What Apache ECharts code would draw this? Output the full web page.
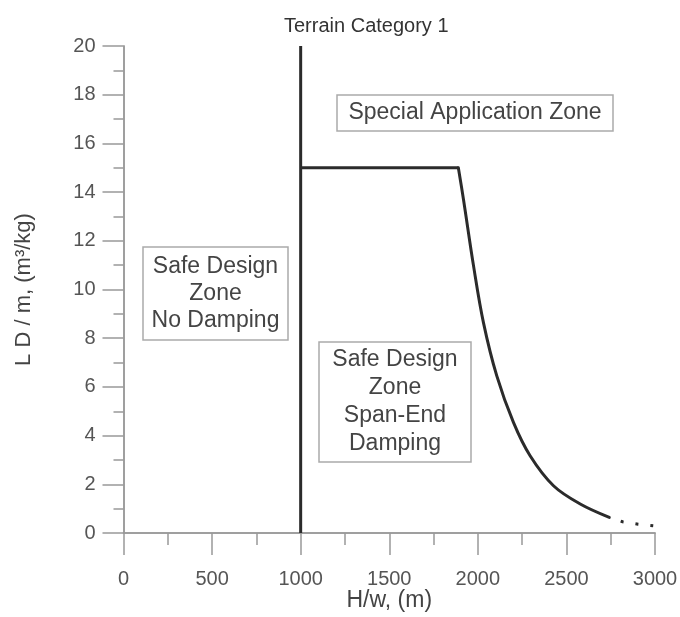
<!DOCTYPE html>
<html>
<head>
<meta charset="utf-8">
<script src="https://cdn.jsdelivr.net/npm/echarts@6/dist/echarts.min.js"></script>
<style>
  html, body { margin: 0; padding: 0; background: #fff; }
  #chart { width: 680px; height: 617px; }
</style>
</head>
<body>
<div id="chart"></div>
<script>
// boundary between the two safe zones, H/w = 1000 m
const dividerX = [1000, 1000];
const dividerY = [0, 20];

// upper limit: flat plateau at 15 ...
const plateauX = [1000, 1890];
const plateauY = [15, 15];

// ... then the falling curve
const limitX = [1890, 1919, 1976, 2032, 2107, 2201, 2295, 2427, 2578, 2742];
const limitY = [15, 13.7, 10.96, 8.63, 6.45, 4.54, 3.17, 1.94, 1.19, 0.64];

// extrapolated (dotted) tail
const tailX = [2742, 2817, 2905, 2990];
const tailY = [0.64, 0.46, 0.36, 0.3];

const xTicks = [0, 500, 1000, 1500, 2000, 2500, 3000];
const yTicks = [0, 2, 4, 6, 8, 10, 12, 14, 16, 18, 20];

const zip = (xs, ys) => xs.map((x, i) => [x, ys[i]]);

const FONT = "'Liberation Sans', Arial, sans-serif";
const axisGray = '#999';
const textGray = '#444';
const lineDark = '#2b2b2b';

const chart = echarts.init(document.getElementById('chart'));

const boxes = [
  { x: 143, y: 247, w: 145, h: 93, lines: ['Safe Design', 'Zone', 'No Damping'], lh: 27 },
  { x: 319, y: 342, w: 152, h: 120, lines: ['Safe Design', 'Zone', 'Span-End', 'Damping'], lh: 28 },
  { x: 337, y: 95, w: 276, h: 36, lines: ['Special Application Zone'], lh: 27 }
];

const graphic = [
  {
    type: 'text',
    left: 371 - 87,
    top: 16,
    style: { text: 'Terrain Category 1', font: '20px ' + FONT, fill: '#333' }
  }
];
boxes.forEach(b => {
  graphic.push({
    type: 'rect',
    shape: { x: b.x, y: b.y, width: b.w, height: b.h },
    style: { fill: '#fff', stroke: '#aaa', lineWidth: 1.5 },
    z: 10
  });
  graphic.push({
    type: 'text',
    x: b.x + b.w / 2,
    y: b.y + b.h / 2,
    style: {
      text: b.lines.join('\n'),
      font: '23px ' + FONT,
      fill: textGray,
      align: 'center',
      verticalAlign: 'middle',
      lineHeight: b.lh
    },
    z: 11
  });
});

const hiddenAxis = {
  type: 'value',
  axisLine: { show: true, lineStyle: { color: axisGray, width: 1.5 } },
  axisTick: { show: false },
  axisLabel: { show: false },
  splitLine: { show: false }
};

chart.setOption({
  animation: false,
  backgroundColor: '#fff',
  grid: { left: 123.5, right: 25, top: 46, bottom: 84, containLabel: false, outerBoundsMode: 'none' },
  graphic,
  xAxis: [
    {
      type: 'value',
      min: xTicks[0],
      max: xTicks[xTicks.length - 1],
      interval: 500,
      axisLine: { show: true, onZero: false, lineStyle: { color: axisGray, width: 1.5 } },
      axisTick: { show: true, length: 22, lineStyle: { color: axisGray, width: 1.5 } },
      minorTick: { show: true, splitNumber: 2, length: 12, lineStyle: { color: axisGray, width: 1.5 } },
      splitLine: { show: false },
      axisLabel: { margin: 36, fontSize: 20, color: '#555', fontFamily: FONT, formatter: v => String(v) },
      name: 'H/w, (m)',
      nameLocation: 'middle',
      nameGap: 56,
      nameMoveOverlap: false,
      nameTextStyle: { fontSize: 23, color: textGray, fontFamily: FONT }
    },
    Object.assign({ position: 'top', min: 0, max: 3000 }, hiddenAxis)
  ],
  yAxis: [
    {
      type: 'value',
      min: yTicks[0],
      max: yTicks[yTicks.length - 1],
      interval: 2,
      axisLine: { show: true, onZero: false, lineStyle: { color: axisGray, width: 1.5 } },
      axisTick: { show: true, length: 21, lineStyle: { color: axisGray, width: 1.5 } },
      minorTick: { show: true, splitNumber: 2, length: 10, lineStyle: { color: axisGray, width: 1.5 } },
      splitLine: { show: false },
      axisLabel: { margin: 28, fontSize: 20, color: '#555', fontFamily: FONT, formatter: v => String(v) },
      name: 'L D / m, (m³/kg)',
      nameLocation: 'middle',
      nameRotate: 90,
      nameGap: 89,
      nameMoveOverlap: false,
      nameTextStyle: { fontSize: 22, color: textGray, fontFamily: FONT }
    },
    Object.assign({ position: 'right', min: 0, max: 20 }, hiddenAxis)
  ],
  series: [
    {
      type: 'line',
      data: zip(dividerX, dividerY),
      showSymbol: false,
      lineStyle: { color: lineDark, width: 3 },
      z: 5
    },
    {
      type: 'line',
      data: zip(plateauX, plateauY),
      showSymbol: false,
      lineStyle: { color: lineDark, width: 3, join: 'round' },
      z: 5
    },
    {
      type: 'line',
      data: zip(limitX, limitY),
      showSymbol: false,
      smooth: 0.35,
      lineStyle: { color: lineDark, width: 3, cap: 'round' },
      z: 5
    },
    {
      type: 'line',
      data: zip(tailX, tailY),
      showSymbol: false,
      lineStyle: { color: lineDark, width: 3, type: [3, 12], dashOffset: -12 },
      z: 5
    }
  ]
});
</script>
</body>
</html>
